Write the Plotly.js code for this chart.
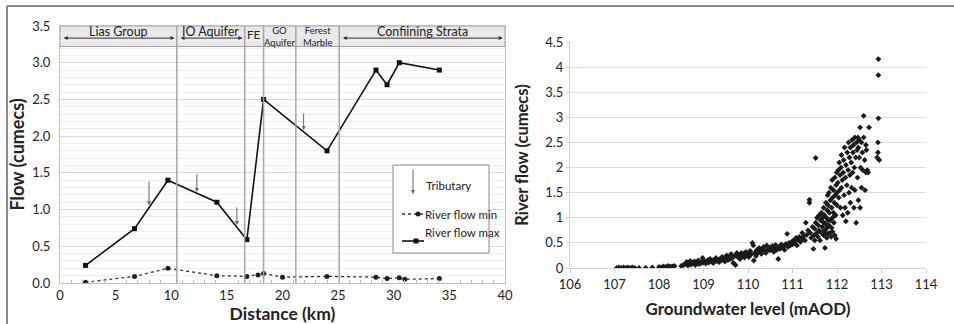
<!DOCTYPE html>
<html><head><meta charset="utf-8">
<script src="https://cdn.plot.ly/plotly-3.0.1.min.js"></script>
<style>html,body{margin:0;padding:0;background:#fff}#chart{width:954px;height:324px}</style>
</head><body><div id="chart"></div>
<script>
// ---- Left chart data ----
const distMax = [2.3, 6.7, 9.7, 14.1, 16.8, 18.3, 24.0, 28.4, 29.4, 30.5, 34.1];
const flowMax = [0.24, 0.74, 1.40, 1.10, 0.59, 2.50, 1.80, 2.90, 2.70, 3.00, 2.90];
const distMin = [2.3, 6.7, 9.7, 14.1, 16.8, 17.8, 18.3, 20.0, 24.0, 28.4, 29.4, 30.5, 31.0, 34.1];
const flowMin = [0.01, 0.09, 0.20, 0.10, 0.09, 0.11, 0.13, 0.08, 0.09, 0.08, 0.06, 0.07, 0.05, 0.06];
const tribX = [8.0, 12.3, 15.9, 21.9];
const tribTop = [1.40, 1.50, 1.05, 2.33];
const tribBottom = [1.06, 1.24, 0.79, 2.08];
const bandNames = ["Lias Group", "IO Aquifer", "FE", "GO<br>Aquifer", "Ferest<br>Marble", "Confiining Strata"];
const bandStart = [0, 10.5, 16.6, 18.3, 21.2, 25.1];
const bandEnd = [10.5, 16.6, 18.3, 21.2, 25.1, 40];
const bandArrow = [true, true, false, false, false, true];
const legendLabels = ["Tributary", "River flow min", "River flow max"];

// ---- Right chart data (groundwater level vs river flow) ----
const gwLevel = [
107.05,107.1,107.15,107.2,107.25,107.3,107.35,107.4,107.45,107.55,107.7,107.85,108.0,108.05,108.1,108.15,108.2,108.25,108.3,108.35,108.5,108.55,
108.6,108.62,108.65,108.68,108.7,108.72,108.75,108.78,108.8,108.82,108.85,108.88,108.9,108.92,108.95,108.98,109.0,
109.02,109.05,109.08,109.1,109.12,109.15,109.18,109.2,109.22,109.25,109.28,109.3,109.32,109.35,109.38,109.4,109.42,109.45,109.48,109.5,
109.52,109.55,109.57,109.6,109.62,109.65,109.67,109.7,109.72,109.75,109.77,109.8,109.82,109.85,109.88,109.9,109.92,109.95,109.98,110.0,
110.02,110.05,110.07,110.1,110.12,110.13,110.15,110.18,110.2,110.22,110.25,110.28,110.3,110.32,110.35,110.38,110.4,110.42,110.45,110.48,110.5,
110.52,110.55,110.58,110.6,110.62,110.65,110.68,110.7,110.72,110.75,110.78,110.8,110.82,110.85,110.88,110.9,110.92,110.95,110.98,111.0,
111.02,111.05,111.08,111.1,111.12,111.15,111.18,111.2,111.22,111.25,111.28,111.3,111.32,111.35,111.38,111.38,111.4,111.42,111.45,111.47,111.48,111.5,111.52,111.5,
111.52,111.55,111.55,111.57,111.58,111.6,111.6,111.62,111.63,111.65,111.65,111.67,111.68,111.7,111.7,111.7,111.72,111.72,111.73,111.74,111.75,111.75,111.76,111.77,111.78,111.78,111.79,111.8,111.8,111.8,
111.82,111.82,111.83,111.84,111.85,111.85,111.86,111.87,111.88,111.88,111.89,111.9,111.9,111.9,111.92,111.92,111.93,111.94,111.95,111.95,111.96,111.97,111.98,111.98,111.99,112.0,112.0,
112.02,112.03,112.04,112.05,112.06,112.07,112.08,112.09,112.1,112.1,112.12,112.13,112.14,112.15,112.16,112.17,112.18,112.19,112.2,112.2,112.22,112.23,112.24,112.25,112.26,112.27,112.28,112.29,112.3,112.3,
112.32,112.33,112.34,112.35,112.36,112.37,112.38,112.39,112.4,112.4,112.42,112.43,112.44,112.45,112.46,112.47,112.48,112.48,112.5,112.5,112.52,112.52,112.53,112.55,112.55,112.57,112.58,112.6,112.6,112.62,112.63,112.65,112.66,112.68,112.7,112.72,112.65,
112.9,112.92,112.93,112.93,112.93,112.95,112.92
];
const riverFlow = [
0.0,0.01,0.0,0.01,0.0,0.01,0.0,0.01,0.0,0.0,0.0,0.01,0.02,0.01,0.03,0.02,0.04,0.03,0.03,0.04,0.04,0.06,
0.08,0.12,0.05,0.10,0.14,0.07,0.11,0.09,0.13,0.06,0.10,0.15,0.08,0.12,0.10,0.20,0.11,
0.14,0.09,0.13,0.16,0.11,0.18,0.13,0.15,0.10,0.17,0.20,0.14,0.16,0.12,0.19,0.15,0.22,0.17,0.13,0.20,
0.25,0.16,0.22,0.18,0.28,0.20,0.10,0.24,0.06,0.30,0.22,0.26,0.18,0.30,0.24,0.28,0.21,0.32,0.26,0.30,
0.22,0.34,0.27,0.50,0.45,0.15,0.30,0.24,0.36,0.30,0.40,0.33,0.28,0.38,0.42,0.34,0.30,0.45,0.38,0.35,0.41,
0.36,0.44,0.32,0.40,0.46,0.36,0.18,0.42,0.38,0.47,0.40,0.43,0.36,0.48,0.68,0.42,0.50,0.45,0.52,0.47,
0.55,0.50,0.60,0.45,0.56,0.62,0.52,0.58,0.70,0.63,0.55,0.90,0.66,0.75,1.30,1.36,0.70,0.60,0.82,0.38,0.65,0.78,2.19,0.55,
0.90,0.70,1.00,0.62,0.85,0.75,1.05,0.55,0.95,0.70,1.10,0.82,1.00,0.65,0.90,1.20,0.75,1.05,0.40,0.88,1.30,0.70,1.00,0.60,1.15,0.80,1.45,0.95,0.68,1.25,
1.50,0.85,1.10,0.70,1.35,0.95,1.60,0.62,1.20,0.80,1.75,1.00,1.40,0.72,1.55,1.10,0.90,1.30,1.80,0.65,1.45,1.05,1.65,0.58,1.90,1.25,1.50,
1.70,1.95,1.40,2.10,1.55,1.85,1.20,2.00,1.60,2.25,1.75,1.05,1.90,2.15,1.45,2.40,1.20,1.80,2.05,0.93,1.65,2.30,1.10,1.95,2.50,1.50,2.20,1.85,2.40,1.30,
2.10,1.60,2.55,1.90,2.30,2.45,1.20,2.00,2.60,1.55,2.20,0.90,2.50,2.35,1.80,2.60,2.40,1.35,2.55,2.20,1.20,2.80,2.00,2.50,1.60,2.30,1.95,2.60,3.03,2.15,1.55,1.90,2.35,1.95,1.90,2.80,2.45,
2.20,2.50,2.98,3.84,4.16,2.15,2.30
];

const W = 954, H = 324;
const px = x => x / W, py = y => 1 - y / H;
const FONT = 'Lato, "Open Sans", sans-serif';

const traces = [
  {x: distMin, y: flowMin, xaxis: 'x', yaxis: 'y', mode: 'lines+markers', name: legendLabels[1],
   line: {color: '#333', width: 1.3, dash: 'dot'}, marker: {symbol: 'circle', size: 5, color: '#222'}},
  {x: distMax, y: flowMax, xaxis: 'x', yaxis: 'y', mode: 'lines+markers', name: legendLabels[2],
   line: {color: '#111', width: 1.6}, marker: {symbol: 'square', size: 5, color: '#111'}},
  {x: gwLevel, y: riverFlow, xaxis: 'x2', yaxis: 'y2', mode: 'markers', name: 'obs',
   marker: {symbol: 'diamond', size: 4.5, color: '#1a1a1a'}}
];

const shapes = [];
const annotations = [];

// header band background
shapes.push({type: 'rect', xref: 'x', yref: 'y', x0: 0, x1: 40, y0: 3.22, y1: 3.5,
  fillcolor: '#e8e8e8', line: {color: '#a0a0a0', width: 1}, layer: 'below'});
// dividers
for (let i = 1; i < bandStart.length; i++) {
  shapes.push({type: 'line', xref: 'x', yref: 'y', x0: bandStart[i], x1: bandStart[i], y0: 0, y1: 3.5,
    line: {color: '#a6a6a6', width: 1.5}});
}
// band labels and arrows
const bandFont = [12.5, 12.5, 11.5, 9.5, 9.5, 12.5];
const bandY = [3.42, 3.43, 3.39, 3.36, 3.36, 3.43];
bandNames.forEach((n, i) => {
  annotations.push({xref: 'x', yref: 'y', x: (bandStart[i] + bandEnd[i]) / 2, y: bandY[i], text: n,
    showarrow: false, font: {family: FONT, size: bandFont[i], color: '#222'}});
  if (bandArrow[i]) {
    annotations.push({xref: 'x', yref: 'y', axref: 'x', ayref: 'y', x: bandEnd[i] - 0.2, y: 3.335,
      ax: bandStart[i] + 0.2, ay: 3.335, text: '', showarrow: true, arrowside: 'end+start',
      arrowhead: 2, arrowsize: 0.8, arrowwidth: 1, arrowcolor: '#333'});
  }
});
// tributary arrows
tribX.forEach((tx, i) => {
  annotations.push({xref: 'x', yref: 'y', axref: 'x', ayref: 'y', x: tx, y: tribBottom[i],
    ax: tx, ay: tribTop[i], text: '', showarrow: true, arrowhead: 2, arrowsize: 0.8,
    arrowwidth: 1, arrowcolor: '#666'});
});

// legend box (pixel placement)
shapes.push({type: 'rect', xref: 'paper', yref: 'paper', x0: px(393), x1: px(489), y0: py(253), y1: py(165),
  fillcolor: '#fff', line: {color: '#888', width: 1}});
annotations.push({xref: 'paper', yref: 'paper', axref: 'pixel', ayref: 'pixel', x: px(413), y: py(194),
  ax: 0, ay: -26, text: '', showarrow: true, arrowhead: 2, arrowsize: 0.8, arrowwidth: 1, arrowcolor: '#666'});
shapes.push({type: 'line', xref: 'paper', yref: 'paper', x0: px(402), x1: px(424), y0: py(214), y1: py(214),
  line: {color: '#333', width: 1.3, dash: 'dot'}});
shapes.push({type: 'circle', xref: 'paper', yref: 'paper', x0: px(415.5), x1: px(420.5), y0: py(216.5), y1: py(211.5),
  fillcolor: '#222', line: {color: '#222', width: 0}});
shapes.push({type: 'line', xref: 'paper', yref: 'paper', x0: px(402), x1: px(424), y0: py(241), y1: py(241),
  line: {color: '#111', width: 1.6}});
shapes.push({type: 'rect', xref: 'paper', yref: 'paper', x0: px(413.5), x1: px(418.5), y0: py(243.5), y1: py(238.5),
  fillcolor: '#111', line: {color: '#111', width: 0}});
const legY = [185, 214, 241];
legendLabels.forEach((t, i) => {
  annotations.push({xref: 'paper', yref: 'paper', x: px(i === 0 ? 424 : 423), y: py(legY[i]), xanchor: 'left',
    text: t, showarrow: false, font: {family: FONT, size: 11.5, color: '#222'}});
});

// frame lines
shapes.push({type: 'line', xref: 'paper', yref: 'paper', x0: px(7), x1: 1, y0: py(6), y1: py(6),
  line: {color: '#8a8a8a', width: 2}});
shapes.push({type: 'line', xref: 'paper', yref: 'paper', x0: px(7), x1: px(7), y0: py(6), y1: 0,
  line: {color: '#8a8a8a', width: 2}});

const tickFont = {family: FONT, size: 13, color: '#222'};
const boldTitle = s => ({family: FONT, size: s, color: '#222', weight: 'bold'});

const layout = {
  width: W, height: H, margin: {l: 0, r: 0, t: 0, b: 0}, showlegend: false,
  paper_bgcolor: '#fff', plot_bgcolor: '#fff', font: {family: FONT},
  xaxis: {domain: [px(60), px(505)], range: [0, 40], dtick: 5, tickfont: tickFont,
    showgrid: false, zeroline: false, showline: true, linecolor: '#bdbdbd', mirror: true, ticks: '',
    minor: {dtick: 1, ticks: 'inside', ticklen: 3, tickcolor: '#bbb'},
    title: {text: 'Distance (km)', font: boldTitle(17.5), standoff: 3}, anchor: 'y'},
  yaxis: {domain: [py(283), py(26)], range: [0, 3.5], dtick: 0.5, tickformat: '.1f', tickfont: tickFont,
    showgrid: true, gridcolor: '#d9d9d9', zeroline: false, showline: true, linecolor: '#bdbdbd', mirror: true,
    minor: {dtick: 0.1, showgrid: true, gridcolor: '#efefef'}, ticks: '', ticklabelstandoff: 6,
    title: {text: 'Flow (cumecs)', font: boldTitle(18), standoff: 2}, anchor: 'x'},
  xaxis2: {domain: [px(570), px(926)], range: [106, 114], dtick: 1, tickfont: tickFont,
    showgrid: false, zeroline: false, showline: true, linecolor: '#d0d0d0', ticks: 'outside', ticklen: 4, tickcolor: '#d0d0d0',
    title: {text: 'Groundwater level (mAOD)', font: boldTitle(17), standoff: 12}, anchor: 'y2'},
  yaxis2: {domain: [py(268), py(42)], range: [0, 4.5], dtick: 0.5, tickfont: tickFont,
    showgrid: true, gridcolor: '#dcdcdc', zeroline: false, showline: true, linecolor: '#d0d0d0',
    ticks: 'outside', ticklen: 3, tickcolor: '#d0d0d0',
    title: {text: 'River flow (cumecs)', font: boldTitle(16.5), standoff: 12}, anchor: 'x2'},
  shapes: shapes, annotations: annotations
};

Plotly.newPlot('chart', traces, layout, {displayModeBar: false, staticPlot: true});
</script></body></html>
